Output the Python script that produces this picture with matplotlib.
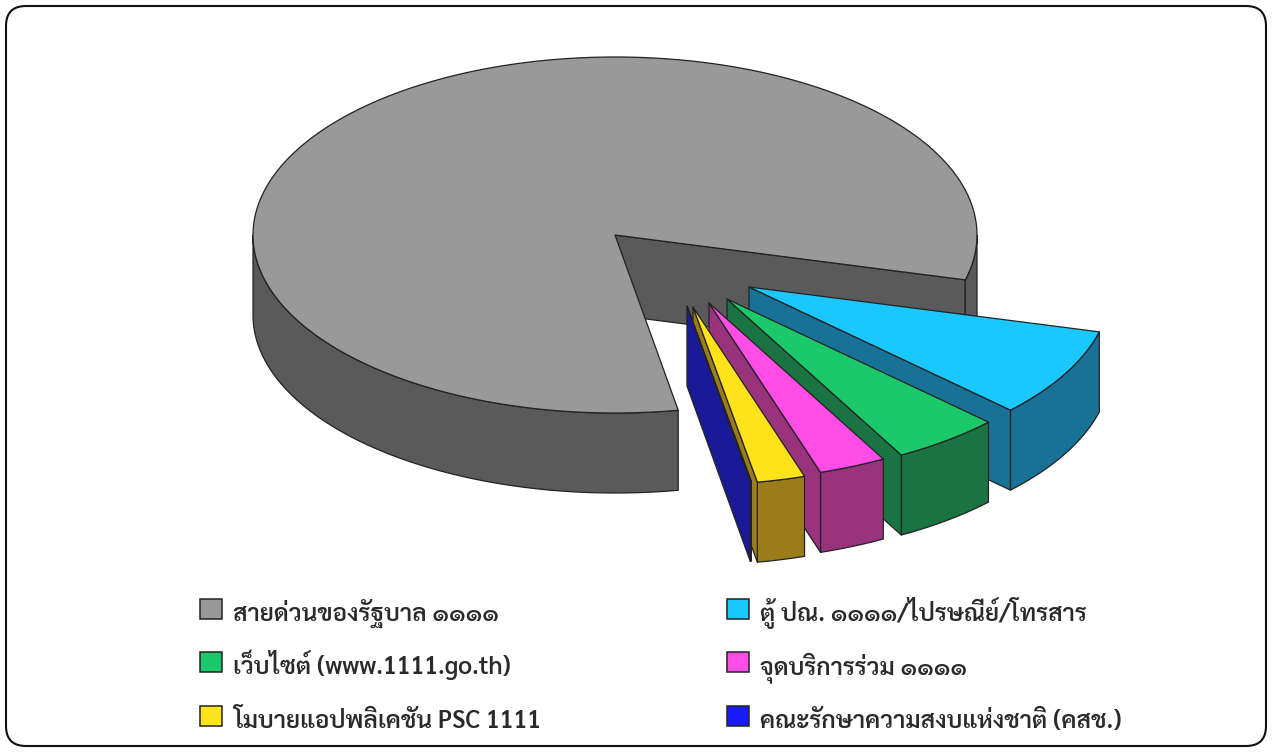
import numpy as np
import matplotlib
matplotlib.use('Agg')
import matplotlib.pyplot as plt
from matplotlib.patches import Polygon, Rectangle, FancyBboxPatch

# Data (share of channels, %), in clockwise order from the first exploded slice
labels = ['ตู้ ปณ. ๑๑๑๑/ไปรษณีย์/โทรสาร', 'เว็บไซต์ (www.1111.go.th)', 'จุดบริการร่วม ๑๑๑๑',
          'โมบายแอปพลิเคชัน PSC 1111', 'คณะรักษาความสงบแห่งชาติ (คสช.)', 'สายด่วนของรัฐบาล ๑๑๑๑']
values = [8.1, 4.85, 3.01, 2.14, 0.05, 81.85]
top_colors = ['#1ac8ff', '#1bc96b', '#ff4de6', '#ffe31a', '#1a1aff', '#999999']
side_colors = ['#187196', '#1a7343', '#9a337e', '#9a7d1a', '#1a1a99', '#5a5a5a']

# Layout of the pie
CX, CY, RX, RY, DEPTH = 615, 235, 362, 178, 80
START = -14.6
offsets = [(134, 52), (112, 64), (94, 68), (78, 72), (72, 71), (0, 0)]
EDGE = '#222222'
LW = 0.9

fig = plt.figure(figsize=(12.72, 7.52), dpi=100)
ax = fig.add_axes([0, 0, 1, 1])
ax.set_xlim(0, 1272)
ax.set_ylim(752, 0)
ax.axis('off')

ax.add_patch(FancyBboxPatch((6 + 20, 6 + 20), 1260 - 40, 740 - 40, boxstyle='round,pad=20,rounding_size=20',
                            fc='white', ec='#111111', lw=1.5, zorder=0))


def rim(t, ox=0, oy=0):
    t = np.radians(t)
    return CX + ox + RX * np.cos(t), CY + oy - RY * np.sin(t)


def poly(xs, ys, fc, z):
    ax.add_patch(Polygon(np.column_stack([xs, ys]), closed=True, fc=fc, ec=EDGE, lw=LW,
                         joinstyle='round', zorder=z))


def wall(t0, t1, ox, oy, fc, z):
    ts = np.linspace(t0, t1, 160)
    x, y = rim(ts, ox, oy)
    poly(np.r_[x, x[::-1]], np.r_[y, y[::-1] + DEPTH], fc, z)


def face(t, ox, oy, fc, z):
    x, y = rim(t, ox, oy)
    ax_, ay = CX + ox, CY + oy
    poly([ax_, x, x, ax_], [ay, y, y + DEPTH, ay + DEPTH], fc, z)


# Slice angles: clockwise from START
ends = START - np.cumsum(values) * 360.0 / sum(values)
starts = np.r_[START, ends[:-1]]

# Big slice first, exploded slices on top from back to front
order = [5, 0, 1, 2, 3, 4]
for z, i in enumerate(order, start=1):
    t0, t1 = starts[i], ends[i]
    ox, oy = offsets[i]
    top, side = top_colors[i], side_colors[i]
    if i == 5:
        # The big slice runs clockwise from t0 round to t1 = START - 360
        face(t1, ox, oy, side, z)
        wall(t1, -360, ox, oy, side, z)
        wall(-180, t0, ox, oy, side, z)
        ts = np.linspace(t0, t1, 400)
    else:
        wall(t0, t1, ox, oy, side, z)
        face(t1, ox, oy, side, z)
        ts = np.linspace(t0, t1, 80)
    x, y = rim(ts, ox, oy)
    poly(np.r_[CX + ox, x], np.r_[CY + oy, y], top, z)

# Legend
rows = [(200, 599, 5), (727, 599, 0), (200, 652, 1), (727, 652, 2), (200, 706, 3), (727, 706, 4)]
for x, y, i in rows:
    ax.add_patch(Rectangle((x, y), 22, 20, fc=top_colors[i], ec='#222222', lw=1.1, zorder=10))
    ax.text(x + 33, y + 22, labels[i], family=['Sarabun', 'Loma', 'DejaVu Sans'], fontweight='semibold',
            fontsize=17.6, color='#2a2a2a', va='baseline', ha='left', zorder=10)

fig.savefig('out.png', dpi=100)
